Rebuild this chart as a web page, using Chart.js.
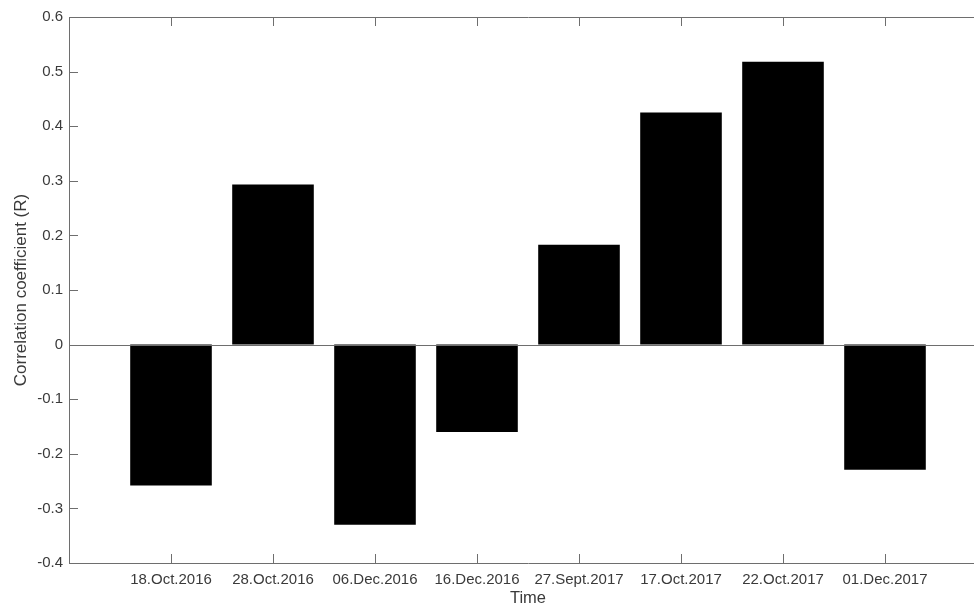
<!DOCTYPE html>
<html>
<head>
<meta charset="utf-8">
<script src="https://cdn.jsdelivr.net/npm/chart.js@4"></script>
<style>
html, body { margin: 0; padding: 0; overflow: hidden; background: #fff; }
canvas { display: block; }
</style>
</head>
<body>
<canvas id="c" width="1000" height="608" style="width:1000px;height:608px"></canvas>
<script>
const categories = ['18.Oct.2016', '28.Oct.2016', '06.Dec.2016', '16.Dec.2016', '27.Sept.2017', '17.Oct.2017', '22.Oct.2017', '01.Dec.2017'];
const correlation = [-0.258, 0.293, -0.330, -0.160, 0.183, 0.425, 0.518, -0.229];
const yTicks = [-0.4, -0.3, -0.2, -0.1, 0, 0.1, 0.2, 0.3, 0.4, 0.5, 0.6];

const axisColor = '#6e6e6e';
const textColor = '#3a3a3a';
const font = 'Liberation Sans, Arial, Helvetica, sans-serif';

const boxTicks = {
  id: 'boxTicks',
  afterDatasetsDraw(chart) {
    const { ctx, chartArea: a, scales } = chart;
    const tl = 9;
    ctx.save();
    ctx.strokeStyle = axisColor;
    ctx.lineWidth = 1;
    ctx.beginPath();
    const y0 = Math.round(scales.y.getPixelForValue(0)) + 0.5;
    ctx.moveTo(a.left, y0); ctx.lineTo(a.right, y0);
    ctx.rect(Math.round(a.left) + 0.5, Math.round(a.top) + 0.5, Math.round(a.right - a.left), Math.round(a.bottom - a.top));
    scales.y.ticks.forEach(t => {
      const y = Math.round(scales.y.getPixelForValue(t.value)) + 0.5;
      ctx.moveTo(a.left, y); ctx.lineTo(a.left + tl, y);
      ctx.moveTo(a.right, y); ctx.lineTo(a.right - tl, y);
    });
    scales.x.ticks.forEach(t => {
      const x = Math.round(scales.x.getPixelForValue(t.value)) + 0.5;
      ctx.moveTo(x, a.bottom); ctx.lineTo(x, a.bottom - tl);
      ctx.moveTo(x, a.top); ctx.lineTo(x, a.top + tl);
    });
    ctx.stroke();
    ctx.restore();
  }
};

new Chart(document.getElementById('c'), {
  type: 'bar',
  data: {
    datasets: [{
      data: correlation.map((v, i) => ({ x: i + 1, y: v })),
      backgroundColor: '#000000',
      borderWidth: 0,
      barPercentage: 0.8,
      categoryPercentage: 1.0
    }]
  },
  options: {
    responsive: false,
    animation: false,
    layout: { padding: { top: 17, right: 13, left: 0, bottom: 0 } },
    plugins: { legend: { display: false }, tooltip: { enabled: false } },
    scales: {
      x: {
        type: 'linear',
        offset: false,
        min: 0,
        max: 9,
        afterBuildTicks: s => { s.ticks = categories.map((_, i) => ({ value: i + 1 })); },
        afterFit: s => { s.height = 45; },
        grid: { display: false, drawTicks: false, offset: false },
        border: { display: false },
        ticks: {
          autoSkip: false,
          maxRotation: 0,
          padding: 8,
          color: textColor,
          font: { family: font, size: 15 },
          callback: v => categories[v - 1] || ''
        },
        title: {
          display: true,
          text: 'Time',
          color: textColor,
          font: { family: font, size: 16.5 },
          padding: { top: 0, bottom: 0 }
        }
      },
      y: {
        min: -0.4,
        max: 0.6,
        afterBuildTicks: s => { s.ticks = yTicks.map(v => ({ value: v })); },
        afterFit: s => { s.width = 69; },
        grid: { display: false, drawTicks: false },
        border: { display: false },
        ticks: {
          padding: 6,
          color: textColor,
          font: { family: font, size: 15 },
          callback: v => String(Number(v.toFixed(1)))
        },
        title: {
          display: true,
          text: 'Correlation coefficient (R)',
          color: textColor,
          font: { family: font, size: 17 },
          padding: { top: 11, bottom: 0 }
        }
      }
    }
  },
  plugins: [boxTicks]
});
</script>
</body>
</html>
